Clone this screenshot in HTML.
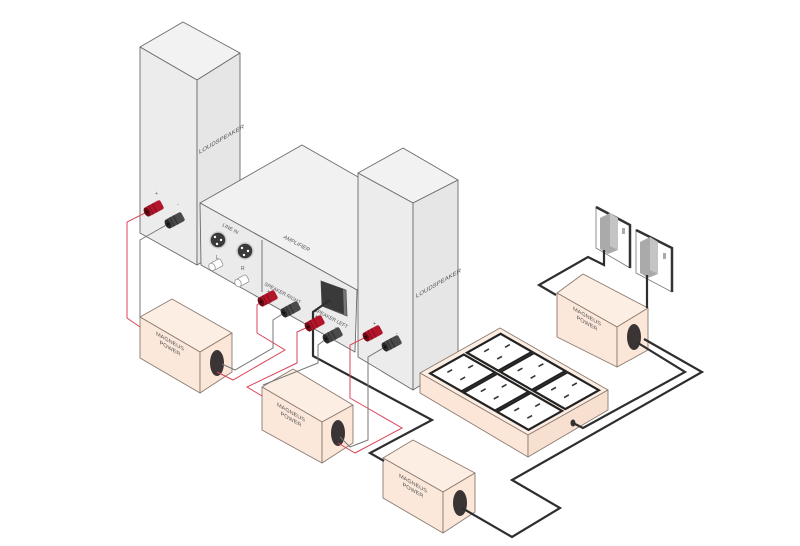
<!DOCTYPE html>
<html><head><meta charset="utf-8"><style>
html,body{margin:0;padding:0;background:#fff;}
svg{display:block;font-family:"Liberation Sans",sans-serif;}
</style></head><body>
<svg width="800" height="546" viewBox="0 0 800 546" xmlns="http://www.w3.org/2000/svg">
<defs>
<g id="rt"><rect x="0" y="-5" width="17" height="10" rx="2" fill="#b3152b"/><rect x="4" y="-5" width="1.2" height="10" fill="#8a0f1f"/><rect x="8" y="-5" width="1.2" height="10" fill="#8a0f1f"/><ellipse cx="0" cy="0" rx="2.8" ry="5" fill="#6e0a16"/><circle cx="0" cy="0" r="1.3" fill="#2a0006"/></g>
<g id="bt"><rect x="0" y="-5" width="17" height="10" rx="2" fill="#4a4a4a"/><rect x="4" y="-5" width="1.2" height="10" fill="#333"/><rect x="8" y="-5" width="1.2" height="10" fill="#333"/><ellipse cx="0" cy="0" rx="2.8" ry="5" fill="#2a2a2a"/><circle cx="0" cy="0" r="1.3" fill="#111"/></g>
</defs>
<g stroke="#6a6a6a" stroke-width="0.9" stroke-linejoin="round">
<polygon points="140,47 183,22 240,53 197,80" fill="#f2f2f2"/>
<polygon points="140,47 197,80 197,265 140,233" fill="#ececec"/>
<polygon points="197,80 240,53 240,240 197,265" fill="#e6e6e6"/>
<polygon points="200,203 302,145 430,218 357,290" fill="#f1f1f1"/>
<polygon points="200,203 357,290 355,352 201,265" fill="#ebebeb"/>
<line x1="262" y1="240" x2="262" y2="292"/>
<polygon points="358,173 403,148 458,180 413,203" fill="#f2f2f2"/>
<polygon points="358,173 413,203 413,390 358,357" fill="#ececec"/>
<polygon points="413,203 458,180 458,362 413,390" fill="#e6e6e6"/>
</g>
<g>
<circle cx="218" cy="240" r="8" fill="#3a3a3a" stroke="#ccc" stroke-width="1.5"/>
<circle cx="245" cy="251" r="8" fill="#3a3a3a" stroke="#ccc" stroke-width="1.5"/>
<g fill="#fff"><circle cx="215" cy="237" r="1.2"/><circle cx="221" cy="240" r="1.2"/><circle cx="217" cy="244" r="1.2"/><circle cx="242" cy="248" r="1.2"/><circle cx="248" cy="251" r="1.2"/><circle cx="244" cy="255" r="1.2"/></g>
<g transform="translate(212,267) rotate(-28)"><rect x="0" y="-4" width="11" height="8" rx="2" fill="#fff" stroke="#888" stroke-width="0.7"/><ellipse cx="0" cy="0" rx="3" ry="4" fill="#fff" stroke="#888" stroke-width="0.7"/></g>
<g transform="translate(238,283) rotate(-28)"><rect x="0" y="-4" width="11" height="8" rx="2" fill="#fff" stroke="#888" stroke-width="0.7"/><ellipse cx="0" cy="0" rx="3" ry="4" fill="#fff" stroke="#888" stroke-width="0.7"/></g>
<polygon points="321,281 346,290 347,316 322,306" fill="#777" stroke="#555" stroke-width="0.8"/>
<polygon points="321,281 343,289 344,314 322,306" fill="#3a3a3a"/>
<g font-size="5" fill="#555">
<text transform="translate(222,226) rotate(28)">LINE IN</text>
<text x="216" y="259">L</text><text x="241" y="270">R</text>
<text transform="translate(264,285) rotate(28)">SPEAKER RIGHT</text>
<text transform="translate(314,311) rotate(28)">SPEAKER LEFT</text>
<text transform="translate(283,238) rotate(28)" font-style="italic" font-size="5.5">AMPLIFIER</text>
<text transform="translate(199,154) skewY(-30)" font-size="6">LOUDSPEAKER</text>
<text transform="translate(416,298) skewY(-30)" font-size="6">LOUDSPEAKER</text>
<text x="155" y="195">+</text><text x="177" y="206">-</text>
<text x="267" y="293">+</text><text x="292" y="305">-</text>
<text x="315" y="318">+</text><text x="335" y="329">-</text>
<text x="373" y="325">+</text><text x="396" y="335">-</text>
</g>
</g>
<g stroke="#8a7a70" stroke-width="0.9" stroke-linejoin="round">
<polygon points="420,373 500,328 608,390 528,435" fill="#fdeee3"/>
<polygon points="420,373 528,435 528,457 420,393" fill="#fbe6d8"/>
<polygon points="528,435 608,390 608,410 528,457" fill="#f8e0d0"/>
</g>
<g transform="matrix(80,-45,108,62,420,373)">
<g fill="#fff" stroke="#222" stroke-width="2.2">
<rect x="0.06" y="0.05" width="0.42" height="0.29" vector-effect="non-scaling-stroke"/>
<rect x="0.52" y="0.05" width="0.42" height="0.29" vector-effect="non-scaling-stroke"/>
<rect x="0.06" y="0.36" width="0.42" height="0.29" vector-effect="non-scaling-stroke"/>
<rect x="0.52" y="0.36" width="0.42" height="0.29" vector-effect="non-scaling-stroke"/>
<rect x="0.06" y="0.67" width="0.42" height="0.29" vector-effect="non-scaling-stroke"/>
<rect x="0.52" y="0.67" width="0.42" height="0.29" vector-effect="non-scaling-stroke"/>
</g>
<path stroke="#333" stroke-width="1.6" fill="none" vector-effect="non-scaling-stroke" d="M0.18 0.12h0.06M0.18 0.24h0.06M0.36 0.18h0.06 M0.64 0.12h0.06M0.64 0.24h0.06M0.82 0.18h0.06 M0.18 0.43h0.06M0.18 0.55h0.06M0.36 0.49h0.06 M0.64 0.43h0.06M0.64 0.55h0.06M0.82 0.49h0.06 M0.18 0.74h0.06M0.18 0.86h0.06M0.36 0.80h0.06 M0.64 0.74h0.06M0.64 0.86h0.06M0.82 0.80h0.06"/>
</g>
<ellipse cx="573" cy="423" rx="2.5" ry="3.5" fill="#333"/>
<g>
<polygon points="596,207 630,225 630,268 596,248" fill="#fff" stroke="#777" stroke-width="0.8"/>
<polyline points="596,207 630,225 630,268" fill="none" stroke="#333" stroke-width="2.5"/>
<polygon points="600,218 610,213 618,218 618,250 608,254 600,249" fill="#aaa"/>
<polygon points="610,213 618,218 618,250 610,246" fill="#c4c4c4"/>
<rect x="622" y="228" width="3" height="6" fill="#aaa"/>
<polygon points="636,230 672,248 672,292 636,273" fill="#fff" stroke="#777" stroke-width="0.8"/>
<polyline points="636,230 672,248 672,292" fill="none" stroke="#333" stroke-width="2.5"/>
<polygon points="640,242 650,237 658,242 658,274 648,278 640,273" fill="#aaa"/>
<polygon points="650,237 658,242 658,274 650,270" fill="#c4c4c4"/>
<rect x="663" y="253" width="3" height="6" fill="#aaa"/>
</g>
<g stroke="#8a7a70" stroke-width="0.9" stroke-linejoin="round">
<polygon points="140,317 172,299 232,333 200,352" fill="#fdeee3"/>
<polygon points="140,317 200,352 200,393 140,358" fill="#fbe8da"/>
<polygon points="200,352 232,333 232,372 200,393" fill="#fbe6d8"/>
<polygon points="262,387 293,369 353,405 322,422" fill="#fdeee3"/>
<polygon points="262,387 322,422 322,463 262,430" fill="#fbe8da"/>
<polygon points="322,422 353,405 353,443 322,463" fill="#fbe6d8"/>
<polygon points="383,458 413,440 475,473 443,492" fill="#fdeee3"/>
<polygon points="383,458 443,492 443,533 383,498" fill="#fbe8da"/>
<polygon points="443,492 475,473 475,512 443,533" fill="#fbe6d8"/>
<polygon points="557,293 583,274 648,308 617,327" fill="#fdeee3"/>
<polygon points="557,293 617,327 617,367 557,337" fill="#fbe8da"/>
<polygon points="617,327 648,308 648,350 617,367" fill="#fbe6d8"/>
</g>
<g fill="#3a3434">
<ellipse cx="217" cy="363" rx="7" ry="13"/>
<ellipse cx="338" cy="433" rx="7" ry="13"/>
<ellipse cx="460" cy="503" rx="7" ry="13"/>
<ellipse cx="634" cy="337" rx="7" ry="13"/>
</g>
<g font-size="5.5" fill="#555" text-anchor="middle">
<text transform="translate(170,343) skewY(30)">MAGNEUS</text><text transform="translate(170,350) skewY(30)">POWER</text>
<text transform="translate(291,414) skewY(30)">MAGNEUS</text><text transform="translate(291,421) skewY(30)">POWER</text>
<text transform="translate(413,485) skewY(30)">MAGNEUS</text><text transform="translate(413,492) skewY(30)">POWER</text>
<text transform="translate(587,318) skewY(30)">MAGNEUS</text><text transform="translate(587,325) skewY(30)">POWER</text>
</g>
<g fill="none" stroke="#2e2e2e" stroke-width="2.2" stroke-linejoin="miter">
<polyline points="330,300 313,312 313,356 432,420 370,453 384,461"/>
<polyline points="604,250 604,265 588,257 539,285 556,295"/>
<polyline points="647,275 647,308"/>
<polyline points="638,343 685,372 583,428 573,423"/>
<polyline points="644,339 702,372 512,480 560,508 512,537 462,508"/>
</g>
<g fill="none" stroke-width="1" stroke-linejoin="miter">
<polyline stroke="#d9465a" points="147,212 127,222 127,318 140,327"/>
<polyline stroke="#777" points="168,224 140,240 140,317"/>
<polyline stroke="#777" points="284,313 273,320 273,348 235,370 222,364"/>
<polyline stroke="#d9465a" points="261,302 257,305 257,333 285,350 233,380 217,372"/>
<polyline stroke="#d9465a" points="308,327 297,332 297,363 247,387 262,396"/>
<polyline stroke="#777" points="326,339 318,345 318,363 263,385"/>
<polyline stroke="#d9465a" points="366,337 350,345 350,398 402,428 355,453 338,443"/>
<polyline stroke="#777" points="385,347 368,357 368,440 350,447 340,437"/>
</g>
<use href="#rt" transform="translate(147,212) rotate(-28)"/>
<use href="#bt" transform="translate(168,224) rotate(-28)"/>
<use href="#rt" transform="translate(261,302) rotate(-28)"/>
<use href="#bt" transform="translate(284,313) rotate(-28)"/>
<use href="#rt" transform="translate(308,327) rotate(-28)"/>
<use href="#bt" transform="translate(326,339) rotate(-28)"/>
<use href="#rt" transform="translate(366,337) rotate(-28)"/>
<use href="#bt" transform="translate(385,347) rotate(-28)"/>
</svg>
</body></html>
